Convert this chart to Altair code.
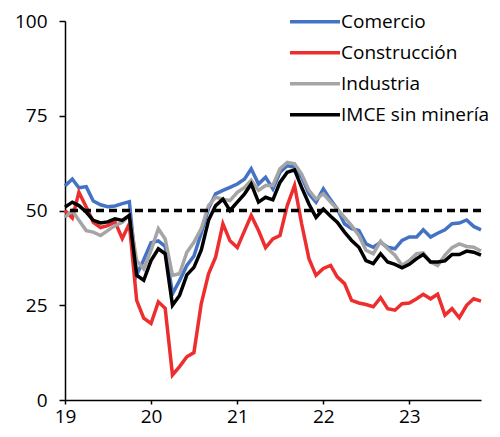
import altair as alt
import pandas as pd

series = ["Comercio", "Construcción", "Industria", "IMCE sin minería"]
colors = ["#4472C4", "#EE2E2E", "#A5A5A5", "#000000"]

comercio = [56.5, 58.3, 56.0, 56.3, 52.5, 51.5, 51.0, 51.2, 51.8, 52.3,
            33.0, 37.0, 41.5, 42.0, 40.5, 28.0, 31.5, 35.5, 38.0, 44.0,
            50.5, 54.4, 55.3, 56.1, 57.0, 58.3, 61.0, 57.0, 58.8, 55.7,
            60.1, 61.8, 61.5, 58.8, 54.4, 52.2, 55.7, 52.8, 50.4, 46.5,
            45.2, 44.7, 41.2, 40.3, 41.6, 40.3, 39.9, 42.1, 43.0, 43.0,
            44.9, 43.0, 44.0, 44.9, 46.5, 46.7, 47.5, 45.8, 44.9]
construccion = [50.0, 48.0, 54.8, 50.9, 46.9, 45.5, 46.0, 47.0, 42.6, 46.5,
                26.3, 21.6, 20.2, 25.9, 24.2, 6.6, 8.8, 11.4, 12.5, 25.4,
                33.3, 37.7, 46.5, 42.0, 40.2, 44.7, 48.7, 44.7, 40.2, 42.5,
                43.4, 51.3, 56.6, 46.5, 37.3, 32.9, 34.7, 35.5, 32.5, 30.7,
                26.3, 25.6, 25.2, 24.6, 27.0, 24.1, 23.7, 25.4, 25.6, 26.7,
                27.9, 26.7, 27.9, 22.4, 24.1, 21.7, 25.0, 26.7, 26.1]
industria = [48.2, 50.0, 47.4, 44.7, 44.3, 43.4, 44.7, 46.0, 46.9, 48.7,
             36.8, 34.6, 39.5, 45.2, 42.5, 32.9, 33.3, 39.0, 41.6, 45.2,
             51.3, 53.5, 53.0, 52.6, 54.8, 56.1, 58.0, 55.3, 56.6, 56.6,
             61.0, 62.7, 62.3, 59.6, 55.3, 53.0, 54.4, 52.2, 50.4, 48.2,
             46.0, 43.4, 39.5, 38.6, 41.9, 39.9, 38.2, 35.5, 36.8, 38.6,
             38.8, 36.4, 35.5, 38.2, 40.2, 41.2, 40.5, 40.3, 39.3]
imce = [50.9, 52.2, 51.3, 49.6, 47.4, 46.7, 47.0, 47.8, 47.4, 48.7,
        32.9, 31.6, 36.8, 39.9, 38.6, 25.0, 27.6, 33.0, 35.0, 39.5,
        47.4, 51.3, 53.0, 50.0, 52.2, 54.4, 57.0, 52.2, 53.5, 52.8,
        57.4, 60.1, 60.7, 56.1, 51.7, 48.2, 50.4, 48.5, 46.9, 44.3,
        42.1, 40.3, 36.8, 36.0, 38.6, 36.4, 35.8, 34.9, 35.8, 37.3,
        38.4, 36.4, 36.4, 36.7, 38.4, 38.4, 39.3, 39.0, 38.2]

months = pd.date_range("2019-01-01", periods=len(imce), freq="MS").strftime("%Y-%m-%dT00:00:00").tolist()

rows = []
for name, vals in zip(series, [comercio, construccion, industria, imce]):
    for m, v in zip(months, vals):
        rows.append({"fecha": m, "serie": name, "valor": v, "orden": series.index(name)})
df = pd.DataFrame(rows)

FONT = "Open Sans"

lines = alt.Chart(df).mark_line(strokeWidth=3.5).encode(
    x=alt.X("fecha:T", title=None,
            scale=alt.Scale(nice=False),
            axis=alt.Axis(format="%y", tickCount={"interval": "year", "step": 1},
                          tickSize=4, labelPadding=3, labelFlush=False,
                          labelOverlap=False)),
    y=alt.Y("valor:Q", title=None,
            scale=alt.Scale(domain=[0, 100]),
            axis=alt.Axis(values=[0, 25, 50, 75, 100], tickSize=6, labelPadding=12)),
    color=alt.Color("serie:N", sort=series,
                    scale=alt.Scale(domain=series, range=colors),
                    legend=alt.Legend(orient="none", legendX=255.5, legendY=-8.8,
                                      title=None, symbolType="M-8,0H2", symbolSize=100,
                                      symbolStrokeWidth=3.5, labelFont=FONT,
                                      labelFontSize=19, labelColor="black",
                                      rowPadding=11, labelOffset=1.5, padding=0,
                                      symbolOffset=0)),
    order=alt.Order("orden:Q"),
    detail="serie:N",
)

ref = alt.Chart(pd.DataFrame({"nivel": [50]})).mark_rule(
    color="black", strokeWidth=3.5, strokeDash=[8, 5]
).encode(y=alt.Y("nivel:Q"))

chart = alt.layer(lines, ref).properties(
    width=416, height=379,
    autosize=alt.AutoSizeParams(type="none"),
    padding={"left": 57, "top": 13, "right": 11, "bottom": 29},
).configure_view(stroke=None).configure_axis(
    grid=False, domainColor="black", domainWidth=1.5, tickColor="black",
    tickWidth=1.5, labelFont=FONT, labelFontSize=19, labelColor="black",
)

chart.save("out.html", embed_options={"renderer": "svg", "actions": False})
